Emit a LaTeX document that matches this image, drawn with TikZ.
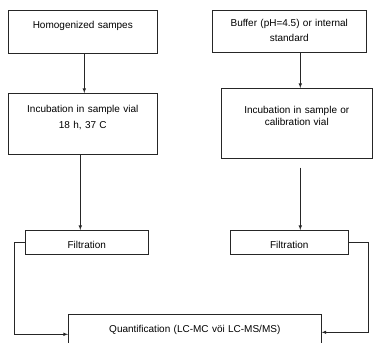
\documentclass[tikz,border=0pt]{standalone}
\usepackage{fontspec}
\setmainfont{Liberation Sans}
\tikzset{
  stagebox/.style={draw=black!85, line width=0.6pt, inner sep=0pt, align=center,
    anchor=north west, font=\fontsize{10}{16}\selectfont},
  flow/.style={->, draw=black!85, line width=0.6pt}
}
\begin{document}
\begin{tikzpicture}[x=1pt, y=-1pt, >=latex]
        \useasboundingbox (0,0) rectangle (382,342);

        % Left column
        \node[stagebox, text width=149pt, text height=18.5pt, text depth=24.5pt] (homog) at (8,10) {Homogenized sampes};
        \node[stagebox, text width=149pt, text height=18.7pt, text depth=42.3pt] (incubL) at (8,93) {Incubation in sample vial\\18 h, 37 C};
        \node[stagebox, text width=123pt, text height=18pt, text depth=6pt] (filtL) at (25,230) {Filtration};

        % Right column
        \node[stagebox, text width=154pt, text height=16.7pt, text depth=25.3pt, font=\fontsize{10}{15}\selectfont] (buffer) at (212,10) {Buffer (pH=4.5) or internal\\standard};
        \node[stagebox, text width=151pt, text height=24.7pt, text depth=45.3pt, font=\fontsize{10}{12.5}\selectfont] (incubR) at (221,88) {Incubation in sample or\\calibration vial};
        \node[stagebox, text width=118pt, text height=18pt, text depth=6pt] (filtR) at (230,230) {Filtration};

        % Bottom
        \node[stagebox, text width=253pt, text height=17.7pt, text depth=22.3pt] (quant) at (68,314) {Quantification (LC-MC vöi LC-MS/MS)};

        % Arrows
        \draw[flow] ([xshift=1.5pt]homog.south) -- ([xshift=1.5pt]homog.south |- incubL.north);
        \draw[flow] ([xshift=-2.5pt]incubL.south) -- ([xshift=-2.5pt]incubL.south |- filtL.north);
        \draw[flow] ([xshift=11pt]buffer.south) -- ([xshift=11pt]buffer.south |- incubR.north);
        \draw[flow] ([xshift=3.5pt,yshift=-9pt]incubR.south) -- ([xshift=3.5pt]incubR.south |- filtR.north);
        \draw[flow] (filtL.west) -- ++(-11,0) |- (quant.west);
        \draw[flow] (filtR.east) -- ++(20,0) |- ([yshift=2pt]quant.east);

\end{tikzpicture}
\end{document}
